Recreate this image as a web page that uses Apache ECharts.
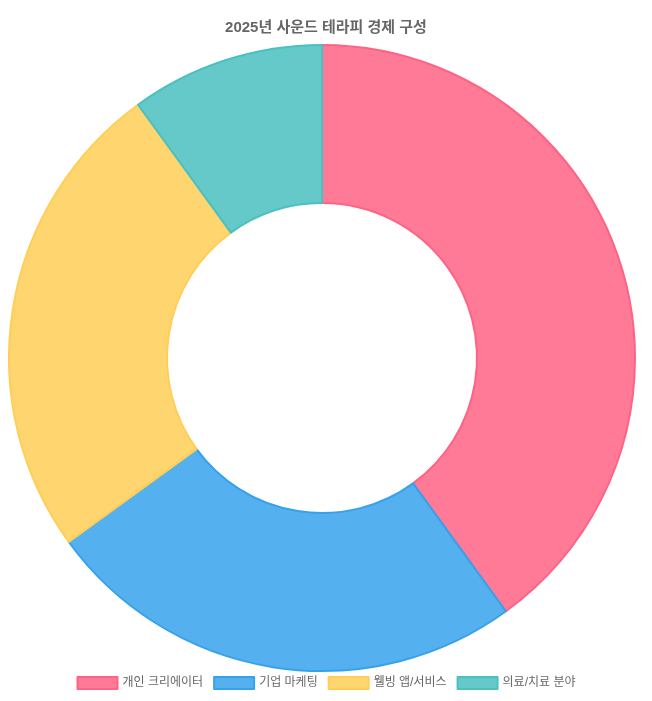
<!DOCTYPE html>
<html><head><meta charset="utf-8">
<script src="https://cdn.jsdelivr.net/npm/echarts@6/dist/echarts.min.js"></script>
<style>html,body{margin:0;padding:0;background:#fff}#c{width:652px;height:701px}</style>
</head><body><div id="c"></div>
<script>
const categories = ['개인 크리에이터', '기업 마케팅', '웰빙 앱/서비스', '의료/치료 분야'];
const values = [40, 25, 25, 10];
const borderColors = ['#FF6384', '#36A2EB', '#FFCE56', '#4BC0C0'];
const fillColors = ['rgba(255,99,132,0.85)', 'rgba(54,162,235,0.85)', 'rgba(255,206,86,0.85)', 'rgba(75,192,192,0.85)'];

const chart = echarts.init(document.getElementById('c'), null, {renderer: 'canvas'});
chart.setOption({
  animation: false,
  title: {
    text: '2025년 사운드 테라피 경제 구성',
    left: 'center', top: 15,
    textStyle: {fontFamily: '"Liberation Sans", "Noto Sans CJK KR", sans-serif', fontSize: 15, fontWeight: 'bold', color: '#666'}
  },
  legend: {
    bottom: 6, left: 'center',
    icon: 'rect', itemWidth: 40, itemHeight: 12, itemGap: 10,
    textStyle: {fontFamily: '"Liberation Sans", "Noto Sans CJK KR", sans-serif', fontSize: 12, color: '#666'},
    data: categories.map((n, i) => ({name: n, itemStyle: {color: fillColors[i], borderColor: borderColors[i], borderWidth: 2}}))
  },
  series: [{
    type: 'pie',
    center: [322, 358],
    radius: [155, 313],
    startAngle: 90,
    clockwise: true,
    label: {show: false},
    labelLine: {show: false},
    emphasis: {disabled: true},
    data: categories.map((n, i) => ({
      name: n, value: values[i],
      itemStyle: {color: fillColors[i], borderColor: borderColors[i], borderWidth: 2}
    }))
  }]
});
</script></body></html>
